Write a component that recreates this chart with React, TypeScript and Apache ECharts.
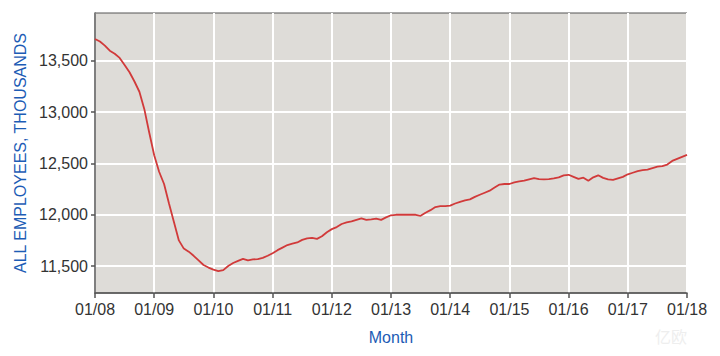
import React, { useEffect, useRef } from "react";
import * as echarts from "echarts";

// Month labels 01/08 ... 01/18 (monthly)
const months: string[] = [];
for (let y = 8; y <= 18; y++) {
  for (let m = 1; m <= 12; m++) {
    if (y === 18 && m > 1) break;
    months.push(`${String(m).padStart(2, "0")}/${String(y).padStart(2, "0")}`);
  }
}

// All employees, thousands
const employees: number[] = [
  13715, 13690, 13650, 13600, 13570, 13530, 13460, 13390, 13300, 13200, 13030, 12800,
  12580, 12420, 12300, 12110, 11930, 11750, 11670, 11640, 11600, 11555, 11510, 11485,
  11465, 11450, 11460, 11500, 11530, 11550, 11570, 11555, 11565, 11567, 11580, 11600,
  11625, 11655, 11680, 11705, 11718, 11730, 11755, 11770, 11775, 11765, 11790, 11830,
  11860, 11880, 11910, 11925, 11935, 11950, 11965, 11950, 11955, 11962, 11950, 11975,
  11995, 12000, 12000, 12000, 12000, 12000, 11990, 12020, 12045, 12075, 12085, 12085,
  12090, 12110, 12125, 12140, 12150, 12175, 12195, 12215, 12235, 12265, 12295, 12300,
  12300, 12315, 12325, 12332, 12345, 12358, 12347, 12345, 12348, 12355, 12365, 12385,
  12390, 12370, 12350, 12362, 12332, 12365, 12385, 12360, 12345, 12340, 12355, 12370,
  12395, 12410, 12425, 12435, 12440, 12455, 12470, 12475, 12490, 12525, 12545, 12565,
  12585,
];

const yTicks: number[] = [11500, 12000, 12500, 13000, 13500];
const yMin = 11237;
const yMax = 13968;

export default function App() {
  const ref = useRef<HTMLDivElement>(null);
  useEffect(() => {
    if (!ref.current) return;
    const chart = echarts.init(ref.current, undefined, { renderer: "svg" });
    chart.setOption({
      animation: false,
      grid: {
        left: 95,
        right: 33,
        top: 13,
        bottom: 63,
        show: true,
        backgroundColor: "#dedcd8",
        borderColor: "#555555",
        borderWidth: 1,
      },
      xAxis: {
        type: "category",
        data: months,
        boundaryGap: false,
        name: "Month",
        nameLocation: "middle",
        nameGap: 36,
        nameTextStyle: { color: "#1d5cb5", fontSize: 16, fontFamily: "Liberation Sans" },
        axisLine: { lineStyle: { color: "#555555", width: 1.5 } },
        axisTick: { interval: 11, length: 5, lineStyle: { color: "#555555", width: 1.5 } },
        axisLabel: {
          interval: 11,
          color: "#333333",
          fontSize: 16,
          fontFamily: "Liberation Sans",
          margin: 8,
        },
        splitLine: { show: true, interval: 11, lineStyle: { color: "#ffffff", width: 2 } },
      },
      yAxis: {
        type: "value",
        min: yMin,
        max: yMax,
        name: "ALL EMPLOYEES, THOUSANDS",
        nameLocation: "middle",
        nameGap: 62,
        nameTextStyle: { color: "#1d5cb5", fontSize: 16, fontFamily: "Liberation Sans" },
        axisLine: { show: true, lineStyle: { color: "#555555", width: 1.5 } },
        axisTick: { show: true, length: 4, customValues: yTicks, lineStyle: { color: "#555555", width: 1.5 } },
        axisLabel: {
          customValues: yTicks,
          color: "#333333",
          fontSize: 16,
          fontFamily: "Liberation Sans",
          margin: 7,
          formatter: (v: number) => v.toLocaleString("en-US"),
        },
        splitLine: { show: true, lineStyle: { color: "#ffffff", width: 2 } },
      },
      series: [
        {
          type: "line",
          data: employees,
          showSymbol: false,
          lineStyle: { color: "#d13a3a", width: 1.8 },
          itemStyle: { color: "#d13a3a" },
        },
      ],
      graphic: [
        {
          type: "text",
          left: 655,
          top: 328,
          style: { text: "亿欧", fill: "#eeeeee", fontSize: 16, fontFamily: "Noto Sans CJK SC" },
        },
      ],
    });
    return () => chart.dispose();
  }, []);
  return (
    <div
      ref={ref}
      style={{ position: "fixed", left: 0, top: 0, width: 720, height: 356, background: "#ffffff" }}
    />
  );
}
